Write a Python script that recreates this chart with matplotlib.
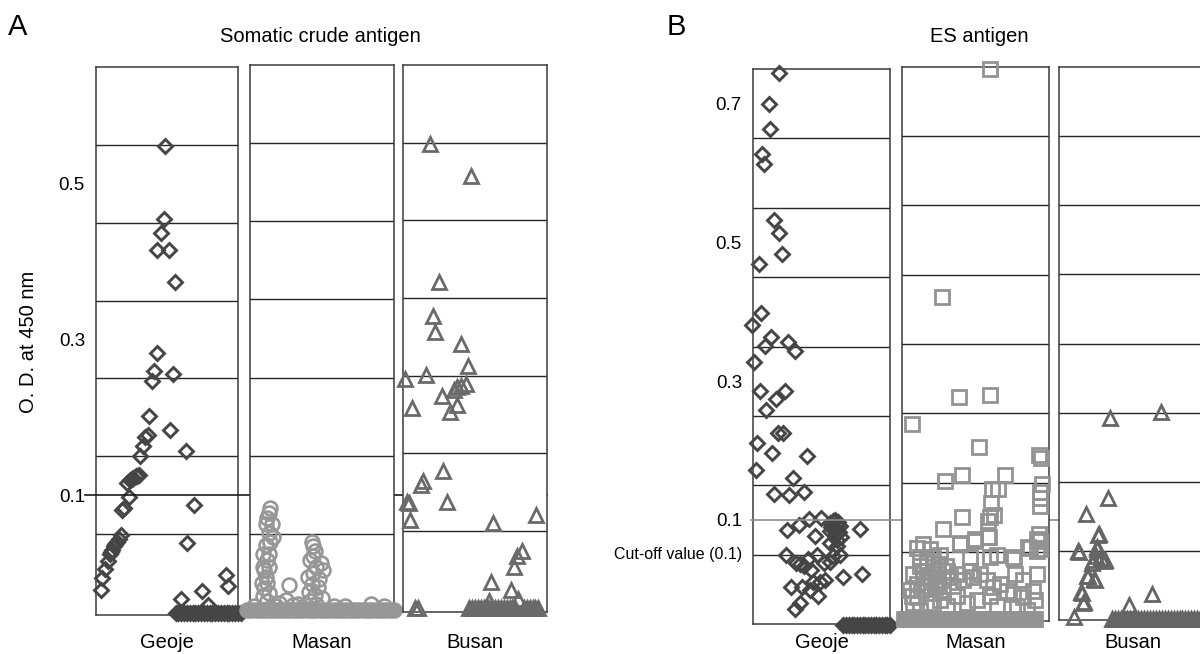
import matplotlib
matplotlib.use("Agg")
import matplotlib.pyplot as plt
from matplotlib.transforms import blended_transform_factory

plt.rcParams["font.family"] = ["Liberation Sans", "DejaVu Sans"]

# --- data: O.D. at 450 nm, x = jitter position inside each strip (0..1) -------------
# A. somatic crude antigen
a_geoje_x = [0.487, 0.478, 0.460, 0.433, 0.516, 0.556, 0.427, 0.411, 0.392, 0.540,
             0.376, 0.522, 0.366, 0.344, 0.333, 0.312, 0.637, 0.304, 0.282, 0.261,
             0.239, 0.218, 0.250, 0.290, 0.231, 0.194, 0.185, 0.688, 0.177, 0.160,
             0.145, 0.135, 0.129, 0.113, 0.105, 0.097, 0.083, 0.065, 0.043, 0.038,
             0.640, 0.917, 0.930, 0.745, 0.602, 0.788]
a_geoje_od = [0.549, 0.455, 0.437, 0.415, 0.415, 0.374, 0.282, 0.260, 0.246, 0.255,
              0.202, 0.184, 0.177, 0.175, 0.163, 0.150, 0.157, 0.126, 0.125, 0.122,
              0.119, 0.115, 0.121, 0.124, 0.098, 0.083, 0.081, 0.087, 0.049, 0.043,
              0.040, 0.037, 0.035, 0.030, 0.027, 0.024, 0.015, 0.005, -0.007, -0.022,
              0.038, -0.002, -0.017, -0.023, -0.033, -0.041]
a_geoje_floor_x = [0.56, 0.58, 0.60, 0.62, 0.64, 0.66, 0.68, 0.70, 0.72, 0.74, 0.76, 0.78,
                   0.80, 0.82, 0.84, 0.86, 0.88, 0.90, 0.92, 0.94, 0.96, 0.98, 1.00, 1.02]
a_geoje_floor_od = -0.052

a_masan_x = [0.14, 0.13, 0.12, 0.11, 0.15, 0.13, 0.16, 0.14, 0.11, 0.09, 0.13, 0.12,
             0.09, 0.13, 0.10, 0.11, 0.08, 0.12, 0.10, 0.13, 0.09, 0.12,
             0.43, 0.44, 0.45, 0.44, 0.42, 0.49, 0.46, 0.51, 0.44, 0.40, 0.48, 0.43,
             0.47, 0.41, 0.45, 0.50, 0.42, 0.46,
             0.27, 0.25, 0.33, 0.20,
             0.03, 0.18, 0.30, 0.36, 0.58, 0.66, 0.84, 0.93]
a_masan_od = [0.083, 0.077, 0.070, 0.062, 0.062, 0.051, 0.046, 0.040, 0.035, 0.024, 0.024, 0.016,
              0.008, 0.008, 0.003, -0.005, -0.013, -0.013, -0.020, -0.026, -0.030, -0.036,
              0.040, 0.034, 0.028, 0.022, 0.016, 0.012, 0.008, 0.003, 0.000, -0.005, -0.008, -0.014,
              -0.018, -0.024, -0.028, -0.032, -0.036, -0.040,
              -0.016, -0.035, -0.040, -0.038,
              -0.042, -0.043, -0.041, -0.044, -0.043, -0.042, -0.040, -0.043]
a_masan_floor_x = [-0.02, 0.01, 0.04, 0.07, 0.10, 0.13, 0.16, 0.19, 0.22, 0.25, 0.28, 0.31,
                   0.34, 0.37, 0.40, 0.43, 0.46, 0.49, 0.52, 0.55, 0.58, 0.61, 0.64, 0.67,
                   0.70, 0.73, 0.76, 0.79, 0.82, 0.85, 0.88, 0.91, 0.94, 0.97, 1.00]
a_masan_floor_od = -0.048

a_busan_x = [0.187, 0.470, 0.248, 0.206, 0.224, 0.404, 0.161, 0.451, 0.016, 0.272,
             0.351, 0.377, 0.404, 0.435, 0.372, 0.325, 0.061, 0.277, 0.140, 0.127,
             0.029, 0.040, 0.303, 0.047, 0.623, 0.926, 0.826, 0.794, 0.768, 0.609,
             0.747, 0.799, 0.596, 0.080, 0.105]
a_busan_od = [0.548, 0.507, 0.371, 0.327, 0.307, 0.291, 0.251, 0.262, 0.246, 0.224,
              0.232, 0.235, 0.237, 0.240, 0.212, 0.203, 0.208, 0.128, 0.115, 0.110,
              0.088, 0.086, 0.087, 0.064, 0.061, 0.071, 0.024, 0.018, 0.004, -0.016,
              -0.026, -0.037, -0.040, -0.049, -0.049]
a_busan_floor_x = [0.46, 0.48, 0.50, 0.52, 0.54, 0.56, 0.58, 0.60, 0.62, 0.64,
                   0.66, 0.68, 0.70, 0.72, 0.74, 0.76, 0.78, 0.84, 0.86, 0.88, 0.90, 0.92, 0.94]
a_busan_floor_od = -0.049

# B. ES antigen
b_geoje_x = [0.187, 0.115, 0.126, 0.067, 0.081, 0.151, 0.193, 0.215, 0.042, 0.059,
             -0.006, 0.131, 0.089, 0.254, 0.304, 0.006, 0.053, 0.232, 0.165, 0.095,
             0.179, 0.221, 0.031, 0.142, 0.391, 0.020, 0.291, 0.156, 0.263, 0.369,
             0.251, 0.338, 0.411, 0.494, 0.562, 0.586, 0.616, 0.635, 0.562, 0.599,
             0.453, 0.640, 0.562, 0.611, 0.635, 0.781, 0.241, 0.314, 0.343, 0.404,
             0.465, 0.518, 0.562, 0.586, 0.421, 0.372, 0.655, 0.796, 0.275, 0.355,
             0.440, 0.489, 0.526, 0.477, 0.416, 0.343, 0.307, 0.600, 0.620, 0.570,
             0.590, 0.630, 0.610]
b_geoje_od = [0.744, 0.700, 0.663, 0.627, 0.613, 0.532, 0.514, 0.483, 0.469, 0.398,
              0.381, 0.363, 0.351, 0.357, 0.343, 0.327, 0.286, 0.286, 0.275, 0.259,
              0.226, 0.226, 0.211, 0.196, 0.192, 0.172, 0.160, 0.137, 0.136, 0.140,
              0.086, 0.092, 0.102, 0.103, 0.095, 0.098, 0.093, 0.091, 0.084, 0.079,
              0.077, 0.076, 0.067, 0.062, 0.050, 0.087, 0.050, 0.038, 0.037, 0.043,
              0.050, 0.038, 0.039, 0.048, 0.028, 0.033, 0.018, 0.022, 0.004, 0.004,
              0.011, 0.010, 0.013, -0.010, -0.001, -0.020, -0.028, 0.100, 0.097, 0.090,
              0.086, 0.083, 0.071]
b_geoje_floor_x = [0.66, 0.68, 0.70, 0.72, 0.74, 0.76, 0.78, 0.80, 0.82,
                   0.84, 0.86, 0.88, 0.90, 0.92, 0.94, 0.96, 0.98, 1.00]
b_geoje_floor_od = -0.052

b_masan_x = [0.602, 0.270, 0.385, 0.597, 0.071, 0.524, 0.929, 0.948, 0.293, 0.406,
             0.699, 0.615, 0.654, 0.607, 0.955, 0.942, 0.937, 0.937, 0.411, 0.602,
             0.628, 0.584, 0.280, 0.393, 0.497, 0.589, 0.929, 0.916, 0.859, 0.764,
             0.916,
             0.100, 0.145, 0.190, 0.122, 0.168, 0.213, 0.247, 0.077, 0.145, 0.190,
             0.247, 0.304, 0.100, 0.168, 0.224, 0.281, 0.327, 0.372, 0.417, 0.463,
             0.485, 0.531, 0.576, 0.621, 0.667, 0.712, 0.757, 0.825, 0.893, 0.905,
             0.916, 0.825, 0.769, 0.463, 0.395, 0.497, 0.587, 0.599, 0.644, 0.757,
             0.871, 0.939, 0.939, 0.054, 0.066, 0.077, 0.122, 0.190, 0.259, 0.304,
             0.372, 0.440, 0.508, 0.599, 0.644, 0.780, 0.848,
             0.12, 0.14, 0.21, 0.16, 0.20, 0.10, 0.13, 0.24, 0.28, 0.35, 0.30, 0.26]
b_masan_od = [0.747, 0.418, 0.273, 0.276, 0.234, 0.201, 0.190, 0.186, 0.152, 0.161,
              0.161, 0.141, 0.141, 0.121, 0.148, 0.136, 0.127, 0.116, 0.100, 0.100,
              0.103, 0.094, 0.083, 0.063, 0.066, 0.072, 0.075, 0.069, 0.057, 0.040,
              0.051,
              0.056, 0.061, 0.054, 0.042, 0.037, 0.042, 0.032, 0.018, 0.022, 0.013,
              0.018, 0.022, 0.003, 0.006, -0.001, 0.009, 0.013, 0.018, 0.009, 0.022,
              0.013, 0.018, 0.009, -0.001, 0.003, -0.006, -0.011, -0.016, -0.006, -0.020,
              0.018, 0.009, 0.018, 0.042, 0.061, 0.069, 0.071, 0.042, 0.045, 0.042,
              0.056, 0.066, 0.054, -0.005, -0.014, -0.024, -0.034, -0.024, -0.019, -0.029,
              -0.014, -0.024, -0.019, -0.014, -0.029, -0.029, -0.034,
              0.030, 0.012, 0.028, 0.000, -0.010, -0.015, -0.005, 0.005, -0.005, 0.000, 0.030, 0.045]
b_masan_floor_x = [0.015, 0.040, 0.065, 0.090, 0.115, 0.140, 0.165, 0.190, 0.215,
                   0.240, 0.265, 0.290, 0.315, 0.340, 0.365, 0.390, 0.415, 0.440, 0.465,
                   0.490, 0.515, 0.540, 0.565, 0.590, 0.615, 0.640, 0.665, 0.690, 0.715,
                   0.740, 0.765, 0.790, 0.815, 0.840, 0.865, 0.890, 0.905]
b_masan_floor_od = -0.047

b_busan_x = [0.694, 0.348, 0.330, 0.183, 0.275, 0.131, 0.257, 0.249, 0.223, 0.288,
             0.309, 0.191, 0.236, 0.152, 0.170, 0.634, 0.476, 0.105, 0.268, 0.256,
             0.234, 0.313, 0.200, 0.245, 0.154, 0.166, 0.138]
b_busan_od = [0.251, 0.242, 0.126, 0.104, 0.075, 0.050, 0.052, 0.042, 0.033, 0.039,
              0.036, 0.013, 0.010, -0.010, -0.024, -0.012, -0.029, -0.045, 0.073, 0.056,
              0.037, 0.037, 0.013, 0.008, -0.011, -0.026, 0.049]
b_busan_floor_x = [0.36, 0.38, 0.40, 0.42, 0.44, 0.46, 0.48, 0.50, 0.52, 0.54, 0.56,
                   0.58, 0.60, 0.62, 0.64, 0.66, 0.68, 0.70, 0.72, 0.74, 0.76, 0.78, 0.80,
                   0.82, 0.84, 0.86, 0.88, 0.90, 0.92, 0.94, 0.96, 0.98]
b_busan_floor_od = -0.049

a_ticks = [0.1, 0.3, 0.5]
b_ticks = [0.1, 0.3, 0.5, 0.7]
a_grid = [0.05, 0.15, 0.25, 0.35, 0.45, 0.55]
b_grid = [0.05, 0.15, 0.25, 0.35, 0.45, 0.55, 0.65]
cutoff = 0.1

# --- layout (pixel boxes on a 1200 x 654 canvas) -------------------------------------
W, H = 1200, 654


def box(x0, y0, x1, y1):
    return [x0 / W, 1 - y1 / H, (x1 - x0) / W, (y1 - y0) / H]


diamond = dict(marker="D", ms=7.2, mew=2.1, mec="#454545", mfc="none")
circle = dict(marker="o", ms=10.0, mew=1.9, mec="#979797", mfc="none")
tri_a = dict(marker="^", ms=10.5, mew=2.0, mec="#6a6a6a", mfc="none")
square = dict(marker="s", ms=9.5, mew=2.0, mec="#939393", mfc="none")
tri_b = dict(marker="^", ms=10.5, mew=2.0, mec="#656565", mfc="none")

fig = plt.figure(figsize=(W / 100, H / 100), dpi=100)


def strip(rect, ylim, grid, x, od, floor_x, floor_od, style, name, label_y):
    ax = fig.add_axes(rect)
    ax.set_xlim(0, 1)
    ax.set_ylim(*ylim)
    for g in grid:
        ax.axhline(g, color="#262626", lw=1.0, zorder=1)
    # values at or below the plate floor pile up along the bottom edge
    floor_style = dict(style, mfc=style["mec"])
    ax.plot(floor_x, [floor_od] * len(floor_x), ls="none", zorder=3, clip_on=False,
            **floor_style)
    ax.plot(x, od, ls="none", zorder=4, clip_on=False, **style)
    ax.set_xticks([])
    ax.set_yticks([])
    for s in ax.spines.values():
        s.set_color("#3a3a3a")
        s.set_linewidth(1.1)
    pos = ax.get_position()
    fig.text(pos.x0 + pos.width / 2, 1 - label_y / H, name, ha="center", va="center",
             fontsize=14.5)
    return ax


ylim_a = (-0.054, 0.65)
ylim_b = (-0.05, 0.75)

ax_ag = strip(box(96, 67, 238, 615), ylim_a, a_grid, a_geoje_x, a_geoje_od,
              a_geoje_floor_x, a_geoje_floor_od, diamond, "Geoje", 642)
ax_am = strip(box(250, 65, 394, 615), ylim_a, a_grid, a_masan_x, a_masan_od,
              a_masan_floor_x, a_masan_floor_od, circle, "Masan", 642)
ax_ab = strip(box(403, 65, 547, 612), ylim_a, a_grid, a_busan_x, a_busan_od,
              a_busan_floor_x, a_busan_floor_od, tri_a, "Busan", 642)

ax_bg = strip(box(753, 69, 890, 624), ylim_b, b_grid, b_geoje_x, b_geoje_od,
              b_geoje_floor_x, b_geoje_floor_od, diamond, "Geoje", 642)
ax_bm = strip(box(902, 67, 1049, 621), ylim_b, b_grid, b_masan_x, b_masan_od,
              b_masan_floor_x, b_masan_floor_od, square, "Masan", 642)
ax_bb = strip(box(1059, 67, 1206, 620), ylim_b, b_grid, b_busan_x, b_busan_od,
              b_busan_floor_x, b_busan_floor_od, tri_b, "Busan", 642)

for ax, ticks in ((ax_ag, a_ticks), (ax_bg, b_ticks)):
    ax.set_yticks(ticks, [f"{t:.1f}" for t in ticks])
    ax.tick_params(axis="y", length=0, pad=8, labelsize=13.5)

# cut-off lines
tr = blended_transform_factory(ax_ag.transAxes, ax_ag.transData)
ax_ag.plot([-0.077, 3.176], [cutoff, cutoff], transform=tr, color="#1a1a1a", lw=1.2,
           clip_on=False, zorder=5)
tr = blended_transform_factory(ax_bg.transAxes, ax_bg.transData)
ax_bg.plot([-0.015, 3.3], [cutoff, cutoff], transform=tr, color="#8c8c8c", lw=1.2,
           clip_on=False, zorder=5)
ax_bg.text(-0.08, 0.05, "Cut-off value (0.1)", transform=tr, ha="right", va="center",
           fontsize=11.5)

fig.text(320 / W, 1 - 37 / H, "Somatic crude antigen", ha="center", va="center", fontsize=14.5)
fig.text(979 / W, 1 - 37 / H, "ES antigen", ha="center", va="center", fontsize=14.5)
fig.text(29 / W, 1 - 342 / H, "O. D. at 450 nm", rotation=90, ha="center", va="center",
         fontsize=14.5)
fig.text(8 / W, 1 - 27 / H, "A", ha="left", va="center", fontsize=21)
fig.text(667 / W, 1 - 27 / H, "B", ha="left", va="center", fontsize=21)

fig.savefig("out.png", dpi=100)
